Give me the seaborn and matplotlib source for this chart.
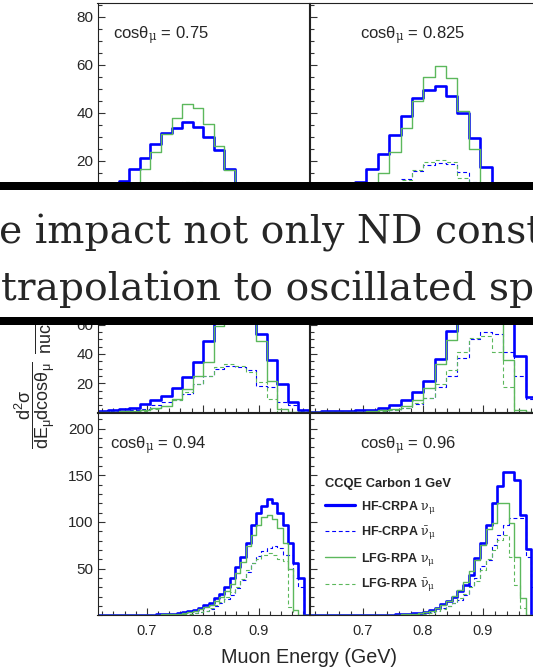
import numpy as np
import pandas as pd
import matplotlib
matplotlib.use("Agg")
import matplotlib.pyplot as plt
import seaborn as sns
from matplotlib.patches import Rectangle
from matplotlib.lines import Line2D
from matplotlib.ticker import MultipleLocator, FixedLocator, FuncFormatter

# ---------------- data (bin contents) ----------------
E_MIN, E_MAX = 0.6115, 0.990
N_COARSE, N_FINE = 20, 40

cos_labels = ["0.75", "0.825", "0.875", "0.91", "0.94", "0.96"]

# cos = 0.75 (20 bins)
hf_nu_075 = [5.5, 8.5, 11.7, 16.5, 21.1, 27.2, 31.7, 33.6, 36.0, 33.9, 29.7, 24.7, 16.5, 6.5, 1.2, 0.2, 0, 0, 0, 0]
hf_nubar_075 = [0.5, 1.0, 1.6, 2.5, 3.5, 5.0, 6.8, 8.5, 10.6, 10.3, 9.5, 8.0, 6.0, 3.2, 1.0, 0.2, 0, 0, 0, 0]
lfg_nu_075 = [1.0, 2.5, 5.0, 9.5, 16.5, 23.5, 31.1, 38.0, 43.6, 42.0, 35.3, 26.3, 16.1, 5.0, 0.5, 0, 0, 0, 0, 0]
lfg_nubar_075 = [0.2, 0.5, 0.9, 1.5, 2.5, 4.0, 6.0, 8.5, 11.2, 11.0, 10.0, 8.0, 5.0, 1.5, 0.3, 0, 0, 0, 0, 0]

# cos = 0.825 (20 bins)
hf_nu_0825 = [2.0, 3.5, 5.5, 8.0, 11.0, 16.5, 22.8, 30.8, 38.8, 46.0, 49.4, 51.3, 47.1, 39.9, 29.3, 17.6, 5.0, 0.6, 0, 0]
hf_nubar_0825 = [0.4, 0.7, 1.2, 2.0, 3.0, 4.5, 6.5, 9.0, 12.4, 15.6, 18.3, 19.0, 18.5, 15.3, 11.0, 5.0, 1.5, 0.2, 0, 0]
lfg_nu_0825 = [0.4, 0.8, 1.5, 3.0, 5.0, 9.0, 15.1, 23.5, 33.6, 45.0, 55.0, 59.6, 54.3, 40.8, 25.1, 8.0, 1.0, 0, 0, 0]
lfg_nubar_0825 = [0.2, 0.4, 0.8, 1.4, 2.2, 3.5, 5.5, 8.5, 12.0, 16.0, 19.3, 20.3, 19.3, 13.0, 6.0, 1.0, 0, 0, 0, 0]

# cos = 0.875 (20 bins)
hf_nu_0875 = [0.9, 1.4, 2.3, 3.2, 5.5, 8.2, 11.1, 16.8, 24.5, 34.3, 48.6, 68.0, 85.0, 92.0, 82.0, 53.2, 35.5, 19.1, 7.0, 1.4]
hf_nubar_0875 = [0.5, 0.8, 1.2, 1.8, 2.5, 4.8, 7.0, 8.6, 12.7, 19.1, 25.2, 29.8, 31.6, 30.9, 29.1, 18.4, 17.7, 7.0, 4.8, 1.2]
lfg_nu_0875 = [0.2, 0.4, 0.7, 1.0, 1.4, 3.2, 4.1, 9.3, 16.1, 25.2, 34.3, 59.3, 90.0, 108.0, 95.0, 49.0, 21.8, 2.5, 0, 0]
lfg_nubar_0875 = [0.1, 0.2, 0.4, 0.7, 1.2, 2.5, 4.1, 8.2, 13.9, 19.5, 25.2, 30.9, 33.2, 32.0, 27.5, 20.7, 9.3, 0, 0, 0]

# cos = 0.91 (20 bins)
hf_nu_091 = [0.6, 0.7, 0.9, 1.1, 1.4, 1.8, 3.2, 4.8, 8.6, 13.9, 21.8, 36.6, 55.5, 80.0, 105.0, 122.0, 128.0, 100.0, 38.2, 10.5]
hf_nubar_091 = [0.2, 0.3, 0.4, 0.5, 0.6, 0.7, 1.0, 1.6, 3.4, 5.7, 10.2, 17.5, 25.1, 37.2, 50.0, 55.1, 53.4, 41.0, 25.1, 9.0]
lfg_nu_091 = [0.1, 0.2, 0.3, 0.4, 0.6, 0.9, 1.5, 2.3, 4.5, 8.6, 17.0, 33.2, 49.5, 75.0, 105.0, 128.0, 118.0, 36.0, 1.5, 0]
lfg_nubar_091 = [0.1, 0.1, 0.2, 0.3, 0.4, 0.6, 1.0, 1.5, 3.0, 6.3, 9.8, 19.3, 28.9, 41.0, 50.8, 52.4, 41.0, 17.5, 0, 0]

# cos = 0.94 (40 bins)
hf_nu_094 = [0.1, 0.1, 0.15, 0.2, 0.2, 0.25, 0.3, 0.35, 0.4, 0.5,
             0.6, 0.8, 1.0, 1.3, 1.7, 2.3, 3.1, 4.2, 5.8, 7.8,
             10.5, 13.5, 18.0, 23.0, 30.0, 39.6, 52.0, 62.7, 77.0, 96.6,
             109.1, 117.0, 124.1, 120.6, 109.9, 96.6, 77.0, 55.6, 39.6, 0]
hf_nubar_094 = [0.05, 0.05, 0.05, 0.1, 0.1, 0.1, 0.15, 0.15, 0.2, 0.25,
                0.3, 0.4, 0.5, 0.6, 0.8, 1.0, 1.3, 1.8, 2.5, 3.5,
                5.0, 7.0, 9.5, 13.3, 17.1, 21.8, 29.5, 37.7, 46.5, 55.4,
                63.6, 68.6, 72.2, 74.3, 72.2, 65.0, 64.0, 39.6, 30.7, 0]
lfg_nu_094 = [0.05, 0.05, 0.1, 0.1, 0.15, 0.2, 0.2, 0.25, 0.3, 0.35,
              0.45, 0.6, 0.8, 1.0, 1.3, 1.8, 2.5, 3.4, 4.6, 6.3,
              8.5, 11.2, 14.8, 19.5, 25.5, 33.0, 45.0, 57.0, 74.0, 86.0,
              96.6, 104.8, 107.3, 102.7, 93.1, 77.0, 50.0, 6.0, 0, 0]
lfg_nubar_094 = [0.03, 0.03, 0.05, 0.05, 0.08, 0.1, 0.1, 0.15, 0.2, 0.25,
                 0.3, 0.35, 0.45, 0.55, 0.65, 0.8, 1.1, 1.6, 2.3, 3.4,
                 5.0, 7.5, 10.5, 14.5, 20.0, 25.0, 30.4, 39.3, 48.2, 55.4,
                 60.7, 64.3, 67.0, 64.0, 60.7, 58.0, 9.0, 0, 0, 0]

# cos = 0.96 (40 bins)
hf_nu_096 = [0.05, 0.05, 0.05, 0.1, 0.1, 0.1, 0.15, 0.15, 0.2, 0.25,
             0.3, 0.35, 0.45, 0.55, 0.7, 0.85, 1.0, 1.3, 1.9, 2.7,
             3.9, 5.7, 8.2, 11.5, 15.5, 20.0, 25.4, 32.5, 43.2, 61.0,
             77.2, 96.8, 120.7, 138.7, 153.0, 153.5, 144.5, 107.5, 70.7, 0]
hf_nubar_096 = [0.02, 0.02, 0.03, 0.03, 0.05, 0.05, 0.08, 0.1, 0.1, 0.15,
                0.2, 0.25, 0.3, 0.35, 0.45, 0.55, 0.65, 0.8, 1.0, 1.5,
                2.2, 3.2, 5.0, 7.5, 10.0, 13.0, 16.6, 22.0, 30.9, 39.8,
                52.3, 59.4, 75.3, 86.0, 96.8, 104.0, 104.0, 104.0, 62.8, 30.0]
lfg_nu_096 = [0.03, 0.03, 0.05, 0.05, 0.08, 0.1, 0.1, 0.15, 0.2, 0.25,
              0.3, 0.35, 0.4, 0.5, 0.6, 0.75, 0.9, 1.2, 1.7, 2.4,
              3.3, 5.0, 7.3, 10.5, 15.0, 21.0, 27.5, 36.0, 47.0, 59.4,
              75.5, 92.0, 99.3, 120.0, 120.0, 99.3, 62.8, 18.2, 0, 0]
lfg_nubar_096 = [0.01, 0.01, 0.02, 0.02, 0.03, 0.03, 0.05, 0.05, 0.08, 0.1,
                 0.12, 0.15, 0.2, 0.25, 0.3, 0.4, 0.5, 0.6, 0.8, 1.2,
                 1.8, 2.7, 4.5, 6.5, 9.5, 13.0, 18.0, 23.0, 30.0, 37.0,
                 48.0, 60.0, 70.0, 80.7, 86.0, 62.8, 32.5, 7.5, 0, 0]

legend_title = "CCQE Carbon 1 GeV"
legend_labels = [r"HF-CRPA $\nu_{\mu}$", r"HF-CRPA $\bar{\nu}_{\mu}$",
                 r"LFG-RPA $\nu_{\mu}$", r"LFG-RPA $\bar{\nu}_{\mu}$"]
banner_lines = ["e impact not only ND const", "trapolation to oscillated sp"]

# ---------------- style ----------------
sns.set_style("ticks")
plt.rcParams["font.family"] = ["Liberation Sans", "DejaVu Sans"]
plt.rcParams["mathtext.fontset"] = "custom"
plt.rcParams["mathtext.rm"] = "DejaVu Serif"
plt.rcParams["mathtext.sf"] = "Liberation Sans"
plt.rcParams["mathtext.it"] = "DejaVu Serif:italic"
plt.rcParams["mathtext.bf"] = "Liberation Sans:bold"
plt.rcParams["mathtext.default"] = "rm"

BLUE = "#0000ff"
GREEN = "#5cb85c"
STYLES = [
    dict(color=BLUE, linewidth=1.9, linestyle="-"),
    dict(color=BLUE, linewidth=0.8, linestyle=(0, (3.5, 2.5))),
    dict(color=GREEN, linewidth=1.0, linestyle="-"),
    dict(color=GREEN, linewidth=0.8, linestyle=(0, (3.5, 2.5))),
]

W, H = 533, 670
fig = plt.figure(figsize=(W / 100, H / 100), dpi=100)
fig.patch.set_facecolor("white")


def fx(x):
    return x / W


def fy(y):
    return 1 - y / H


def rect(x0, y0, x1, y1):
    return [x0 / W, 1 - y1 / H, (x1 - x0) / W, (y1 - y0) / H]


cols = [(97.5, 309.0), (309.5, 537.0)]
rows = [(3.3, 208.8), (208.8, 412.5), (412.5, 615.2)]
ytop = [85.6, 138.9, 217.2]
ymajor = [[20, 40, 60, 80], [20, 40, 60, 80, 100, 120], [50, 100, 150, 200]]
yminor = [5, 5, 10]

panels = [
    [(hf_nu_075, hf_nubar_075, lfg_nu_075, lfg_nubar_075), (hf_nu_0825, hf_nubar_0825, lfg_nu_0825, lfg_nubar_0825)],
    [(hf_nu_0875, hf_nubar_0875, lfg_nu_0875, lfg_nubar_0875), (hf_nu_091, hf_nubar_091, lfg_nu_091, lfg_nubar_091)],
    [(hf_nu_094, hf_nubar_094, lfg_nu_094, lfg_nubar_094), (hf_nu_096, hf_nubar_096, lfg_nu_096, lfg_nubar_096)],
]
nbins = [N_COARSE, N_COARSE, N_FINE]
label_x = [[113, 360], [113, 360], [110, 360]]

axes = {}
for r, (y0, y1) in enumerate(rows):
    edges = np.linspace(E_MIN, E_MAX, nbins[r] + 1)
    centers = 0.5 * (edges[:-1] + edges[1:])
    for c, (x0, x1) in enumerate(cols):
        ax = fig.add_axes(rect(x0, y0, x1, y1))
        axes[(r, c)] = ax
        for vals, st in zip(panels[r][c], STYLES):
            df = pd.DataFrame({"E": centers, "w": np.asarray(vals, dtype=float)})
            sns.histplot(data=df, x="E", weights="w", bins=list(edges), element="step",
                         fill=False, ax=ax, **st)
        ax.set_xlim(E_MIN, E_MAX)
        ax.set_ylim(0, ytop[r])
        ax.set_xlabel("")
        ax.set_ylabel("")
        ax.xaxis.set_major_locator(MultipleLocator(0.1))
        ax.xaxis.set_minor_locator(MultipleLocator(0.02))
        ax.yaxis.set_major_locator(FixedLocator(ymajor[r]))
        ax.yaxis.set_minor_locator(MultipleLocator(yminor[r]))
        ax.tick_params(which="both", direction="in", top=False, right=False,
                       color="#333333", width=0.8)
        ax.tick_params(which="major", length=5, pad=3)
        ax.tick_params(axis="y", which="major", labelsize=11)
        ax.tick_params(axis="x", which="major", labelsize=10.5, pad=6)
        ax.tick_params(which="minor", length=2.6)
        ax.xaxis.set_major_formatter(FuncFormatter(lambda v, p: f"{v:.1f}"))
        if r < 2:
            ax.tick_params(axis="x", labelbottom=False)
        if c == 1:
            ax.tick_params(axis="y", labelleft=False)
        for s in ax.spines.values():
            s.set_color("#222222")
            s.set_linewidth(0.8)
        ax.patch.set_alpha(0)
        cos_txt = cos_labels[2 * r + c]
        fig.text(fx(label_x[r][c]), fy(y0 + 35.5), "cosθ$_{\\mu}$ = " + cos_txt,
                 fontsize=12, ha="left", va="baseline")

# legend in the bottom-right panel
handles = [Line2D([], [], **st) for st in STYLES]
handles[0].set_linewidth(2.3)
leg = axes[(2, 1)].legend(handles, legend_labels, title=legend_title,
                          loc="upper left", bbox_to_anchor=(fx(325), fy(477.5)),
                          bbox_transform=fig.transFigure, frameon=False,
                          borderpad=0, borderaxespad=0, handlelength=2.4,
                          handletextpad=0.5, labelspacing=0.72,
                          prop=dict(weight="bold", size=9),
                          title_fontproperties=dict(weight="bold", size=9.3))
leg._legend_box.align = "left"

# axis titles
fig.text(fx(309), fy(663), "Muon Energy (GeV)", fontsize=14.2, ha="center", va="baseline")
fig.text(fx(35), fy(405),
         "$\\dfrac{\\mathsf{d^{2}σ}}{\\mathsf{dE_{μ}dcosθ_{μ}}}$",
         rotation=90, fontsize=13, ha="center", va="center")
fig.text(fx(35), fy(354),
         "$\\dfrac{\\mathsf{cm^{2}}}{\\mathsf{nucleon\\ GeV}}$",
         rotation=90, fontsize=13, ha="center", va="bottom")

# banner overlay (slide text box)
fig.add_artist(Rectangle((0, fy(189.5)), 1, (189.5 - 181.5) / H, transform=fig.transFigure,
                         facecolor="black", edgecolor="none", zorder=20))
fig.add_artist(Rectangle((0, fy(317.5)), 1, (317.5 - 189.5) / H, transform=fig.transFigure,
                         facecolor="white", edgecolor="none", zorder=20))
fig.add_artist(Rectangle((0, fy(324.5)), 1, (324.5 - 317.5) / H, transform=fig.transFigure,
                         facecolor="black", edgecolor="none", zorder=20))
fig.text(fx(-1), fy(244), banner_lines[0], fontsize=28.3, family="DejaVu Serif",
         ha="left", va="baseline", zorder=21)
fig.text(fx(1), fy(299.5), banner_lines[1], fontsize=28.3, family="DejaVu Serif",
         ha="left", va="baseline", zorder=21)

fig.savefig("out.png", dpi=100, facecolor="white")
